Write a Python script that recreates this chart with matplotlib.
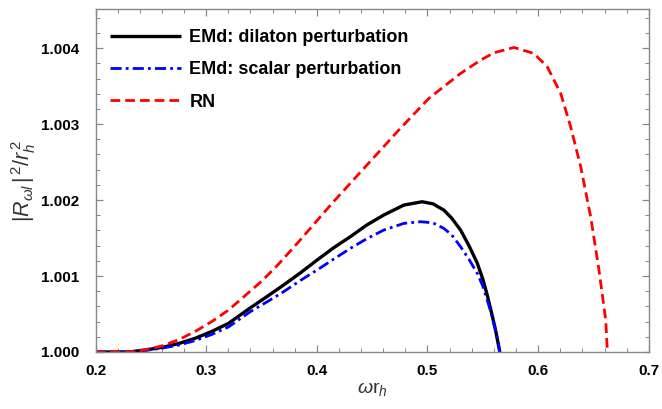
import matplotlib
matplotlib.use("Agg")
import matplotlib.pyplot as plt
from matplotlib.ticker import MultipleLocator, FormatStrFormatter

# ---- data ----
dil_x = [0.20, 0.23, 0.2448, 0.26, 0.275, 0.29, 0.305, 0.3202, 0.3398, 0.355, 0.37, 0.385,
         0.4002, 0.415, 0.4303, 0.445, 0.4605, 0.4786, 0.4952, 0.505, 0.5148, 0.522, 0.5299,
         0.5375, 0.545, 0.550, 0.554, 0.558, 0.5615, 0.5654]
dil_y = [1.0, 1.0, 1.000026, 1.00006, 1.00011, 1.00018, 1.00027, 1.000377, 1.00058, 1.00073,
         1.000882, 1.00104, 1.00121, 1.00137, 1.001518, 1.00167, 1.001803, 1.001934, 1.001978,
         1.00195, 1.001868, 1.00176, 1.001605, 1.0014, 1.00117, 1.00096, 1.00075, 1.00051,
         1.00029, 1.0]

sca_x = [0.20, 0.23, 0.2448, 0.26, 0.275, 0.29, 0.305, 0.3202, 0.3398, 0.355, 0.37, 0.385,
         0.4002, 0.415, 0.4303, 0.445, 0.4605, 0.4786, 0.4937, 0.505, 0.5148, 0.522, 0.5299,
         0.5375, 0.545, 0.550, 0.554, 0.558, 0.5615, 0.5654]
sca_y = [1.0, 1.0, 1.00002, 1.00005, 1.00009, 1.00015, 1.00023, 1.00033, 1.00053, 1.00066,
         1.000794, 1.00094, 1.001079, 1.00122, 1.001364, 1.00149, 1.001605, 1.001693, 1.001715,
         1.0017, 1.001627, 1.00154, 1.001386, 1.00122, 1.001035, 1.00087, 1.000684, 1.00049,
         1.00029, 1.0]

rn_x = [0.20, 0.23, 0.245, 0.26, 0.275, 0.29, 0.305, 0.32, 0.335, 0.35, 0.365, 0.3835, 0.4137,
        0.4439, 0.474, 0.5012, 0.5299, 0.548, 0.56, 0.5781, 0.5962, 0.6083, 0.6204, 0.6294,
        0.6385, 0.6475, 0.655, 0.6611, 0.6626]
rn_y = [1.0, 1.0, 1.00003, 1.00008, 1.00016, 1.00027, 1.0004, 1.00055, 1.00074, 1.00093,
        1.00115, 1.00145, 1.001956, 1.002439, 1.002921, 1.003338, 1.003667, 1.003842, 1.003939,
        1.004009, 1.00393, 1.003754, 1.003404, 1.002965, 1.002438, 1.00178, 1.001079, 1.00042,
        1.0]

labels = ["EMd: dilaton perturbation", "EMd: scalar perturbation", "RN"]
xticks = [0.2, 0.3, 0.4, 0.5, 0.6, 0.7]
yticks = [1.000, 1.001, 1.002, 1.003, 1.004]

plt.rcParams['font.family'] = ['Liberation Sans', 'DejaVu Sans']
plt.rcParams['mathtext.fontset'] = 'custom'
plt.rcParams['mathtext.rm'] = 'Liberation Sans'
plt.rcParams['mathtext.it'] = 'Liberation Sans:italic'
plt.rcParams['mathtext.bf'] = 'Liberation Sans:bold'

fig = plt.figure(figsize=(6.62, 4.09), dpi=100)
ax = fig.add_axes([0.1443, 0.1394, 0.8357, 0.8376])

ax.plot(dil_x, dil_y, color='black', lw=2.4, label=labels[0],
        solid_joinstyle='round', solid_capstyle='butt')
ax.plot(sca_x, sca_y, color='#0000ff', lw=2.0, ls=(0, (4, 1.5, 1, 1.5)), label=labels[1])
ax.plot(rn_x, rn_y, color='#ff0000', lw=2.0, ls=(0, (3.5, 1.8)), label=labels[2])

ax.set_xlim(0.2, 0.7)
ax.set_ylim(1.0, 1.00451)
ax.set_xticks(xticks)
ax.set_yticks(yticks)
ax.xaxis.set_major_formatter(FormatStrFormatter('%.1f'))
ax.yaxis.set_major_formatter(FormatStrFormatter('%.3f'))
ax.xaxis.set_minor_locator(MultipleLocator(0.02))
ax.yaxis.set_minor_locator(MultipleLocator(0.0002))

frame_col = '#888888'
for s in ax.spines.values():
    s.set_color(frame_col)
    s.set_linewidth(1.0)
ax.tick_params(which='both', direction='in', top=True, right=True, color=frame_col)
ax.tick_params(which='major', length=5, width=0.9, labelsize=11)
ax.tick_params(axis='x', which='major', pad=9)
ax.tick_params(axis='y', which='major', pad=12)
ax.tick_params(which='minor', length=3, width=0.7)
for lab in ax.get_xticklabels() + ax.get_yticklabels():
    lab.set_fontweight('bold')

ax.set_xlabel(r'$\omega \mathrm{r}_h$', fontsize=14, color='#333333', labelpad=1)
ax.set_ylabel(r'$|R_{\omega l}\,|^{\,2}/r_h^{\,2}$', fontsize=15.5, color='#333333', labelpad=2)

leg = ax.legend(loc='upper left', frameon=False, prop={'weight': 'bold', 'size': 13},
                handlelength=3.95, handletextpad=0.45, labelspacing=0.84,
                bbox_to_anchor=(0.0, 0.984), borderaxespad=0.5, borderpad=0.3)

fig.savefig('out.png', dpi=100)
